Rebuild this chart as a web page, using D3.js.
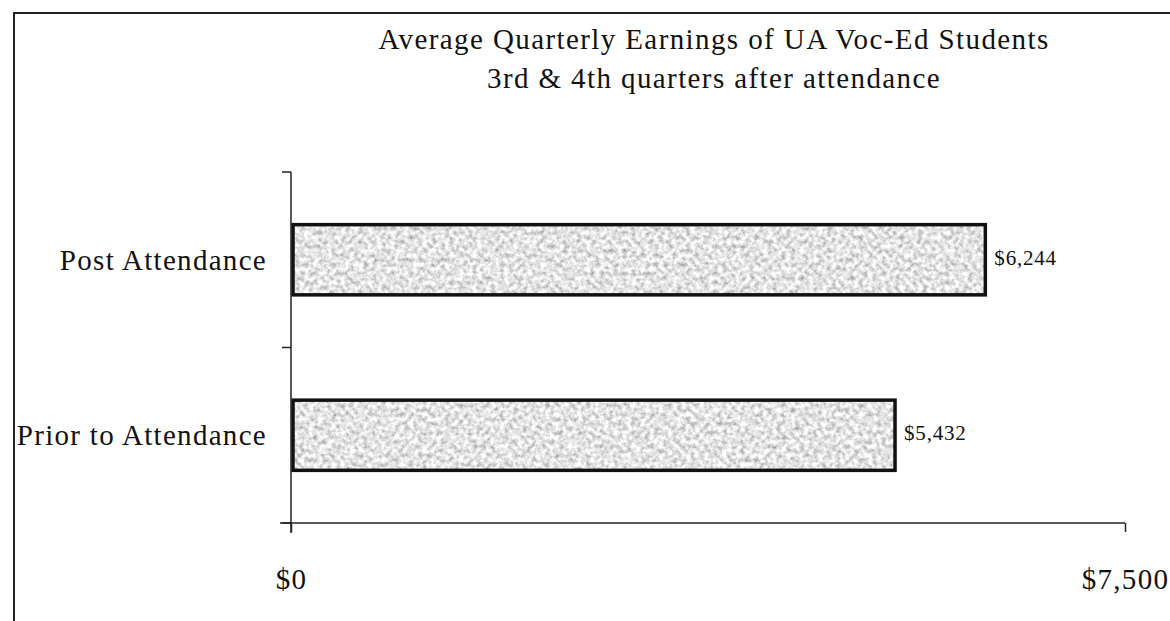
<!DOCTYPE html>
<html>
<head>
<meta charset="utf-8">
<script src="https://cdn.jsdelivr.net/npm/d3@7"></script>
<style>
  body { margin: 0; background: #fff; }
  text { font-family: "Liberation Serif", "Times New Roman", serif; fill: #111; }
</style>
</head>
<body>
<svg id="chart" width="1170" height="621"></svg>
<script>
const categories = ['Post Attendance', 'Prior to Attendance'];
const earnings = [6244, 5432];
const xTicks = [0, 7500];
const titleLines = ['Average Quarterly Earnings of UA Voc-Ed Students', '3rd & 4th quarters after attendance'];

const margin = {top: 172, right: 45, bottom: 98, left: 291};
const width = 1170 - margin.left - margin.right;
const height = 621 - margin.top - margin.bottom;

const svg = d3.select('#chart');

// speckled grey fill, like the scanned bars
const filter = svg.append('defs').append('filter').attr('id', 'speckle')
    .attr('x', 0).attr('y', 0).attr('width', 1).attr('height', 1);
filter.append('feTurbulence')
    .attr('type', 'fractalNoise')
    .attr('baseFrequency', 0.22)
    .attr('numOctaves', 3)
    .attr('seed', 7)
    .attr('result', 'noise');
filter.append('feColorMatrix')
    .attr('in', 'noise')
    .attr('type', 'matrix')
    .attr('values', '1.15 0 0 0 0.2  1.15 0 0 0 0.2  1.15 0 0 0 0.2  0 0 0 0 1')
    .attr('result', 'grey');
filter.append('feComposite')
    .attr('in', 'grey').attr('in2', 'SourceGraphic').attr('operator', 'in');

// frame
svg.append('rect')
    .attr('x', 14).attr('y', 13)
    .attr('width', 1200).attr('height', 700)
    .attr('fill', 'none')
    .attr('stroke', '#222')
    .attr('stroke-width', 2);

svg.append('g')
    .selectAll('text')
    .data(titleLines)
    .join('text')
    .attr('x', 714)
    .attr('y', (d, i) => 49 + i * 39)
    .attr('text-anchor', 'middle')
    .attr('font-size', 29)
    .attr('letter-spacing', 1.4)
    .text(d => d);

const g = svg.append('g').attr('transform', 'translate(' + margin.left + ',' + margin.top + ')');

const x = d3.scaleLinear()
    .domain([0, 7500])
    .range([0, width]);

const y = d3.scaleBand()
    .domain(categories)
    .range([0, height]);

const barH = y.bandwidth() * 0.4;

g.selectAll('.bar')
    .data(categories)
    .join('rect')
    .attr('class', 'bar')
    .attr('x', 2)
    .attr('y', d => y(d) + (y.bandwidth() - barH) / 2)
    .attr('width', (d, i) => x(earnings[i]) - 2)
    .attr('height', barH)
    .attr('fill', '#c8c8c8')
    .attr('filter', 'url(#speckle)');

g.selectAll('.bar-outline')
    .data(categories)
    .join('rect')
    .attr('class', 'bar-outline')
    .attr('x', 2)
    .attr('y', d => y(d) + (y.bandwidth() - barH) / 2)
    .attr('width', (d, i) => x(earnings[i]) - 2)
    .attr('height', barH)
    .attr('fill', 'none')
    .attr('stroke', '#111')
    .attr('stroke-width', 3.5);

g.selectAll('.value')
    .data(categories)
    .join('text')
    .attr('class', 'value')
    .attr('x', (d, i) => x(earnings[i]) + 9)
    .attr('y', d => y(d) + y.bandwidth() / 2 + 5)
    .attr('font-size', 21)
    .attr('letter-spacing', 0.8)
    .text((d, i) => d3.format('$,')(earnings[i]));

// category axis, ticks between the bands
const yAxis = g.append('g').attr('class', 'y axis');
yAxis.append('line')
    .attr('x1', 0).attr('x2', 0)
    .attr('y1', 0).attr('y2', height + 10)
    .attr('stroke', '#222').attr('stroke-width', 1.5);
yAxis.selectAll('.tick')
    .data([0, 1, 2])
    .join('line')
    .attr('x1', -9).attr('x2', 0)
    .attr('y1', d => d * y.step())
    .attr('y2', d => d * y.step())
    .attr('stroke', '#222').attr('stroke-width', 1.5);
yAxis.selectAll('text')
    .data(categories)
    .join('text')
    .attr('x', -24)
    .attr('y', d => y(d) + y.bandwidth() / 2 + 10)
    .attr('text-anchor', 'end')
    .attr('font-size', 29)
    .attr('letter-spacing', 1.3)
    .text(d => d);

const xAxis = d3.axisBottom(x)
    .tickValues(xTicks)
    .tickSize(9)
    .tickSizeOuter(0)
    .tickPadding(36)
    .tickFormat(d3.format('$,'));

g.append('g')
    .attr('class', 'x axis')
    .attr('transform', 'translate(0,' + height + ')')
    .call(xAxis)
    .call(s => s.select('.domain').attr('stroke', '#222').attr('stroke-width', 1.5).attr('d', 'M-11,0H' + width))
    .call(s => s.selectAll('.tick line').attr('stroke', '#222').attr('stroke-width', 1.5))
    .call(s => s.selectAll('.tick text').attr('font-size', 29).attr('letter-spacing', 1.3).attr('fill', '#111')
      .attr('font-family', '"Liberation Serif", "Times New Roman", serif'));
</script>
</body>
</html>
